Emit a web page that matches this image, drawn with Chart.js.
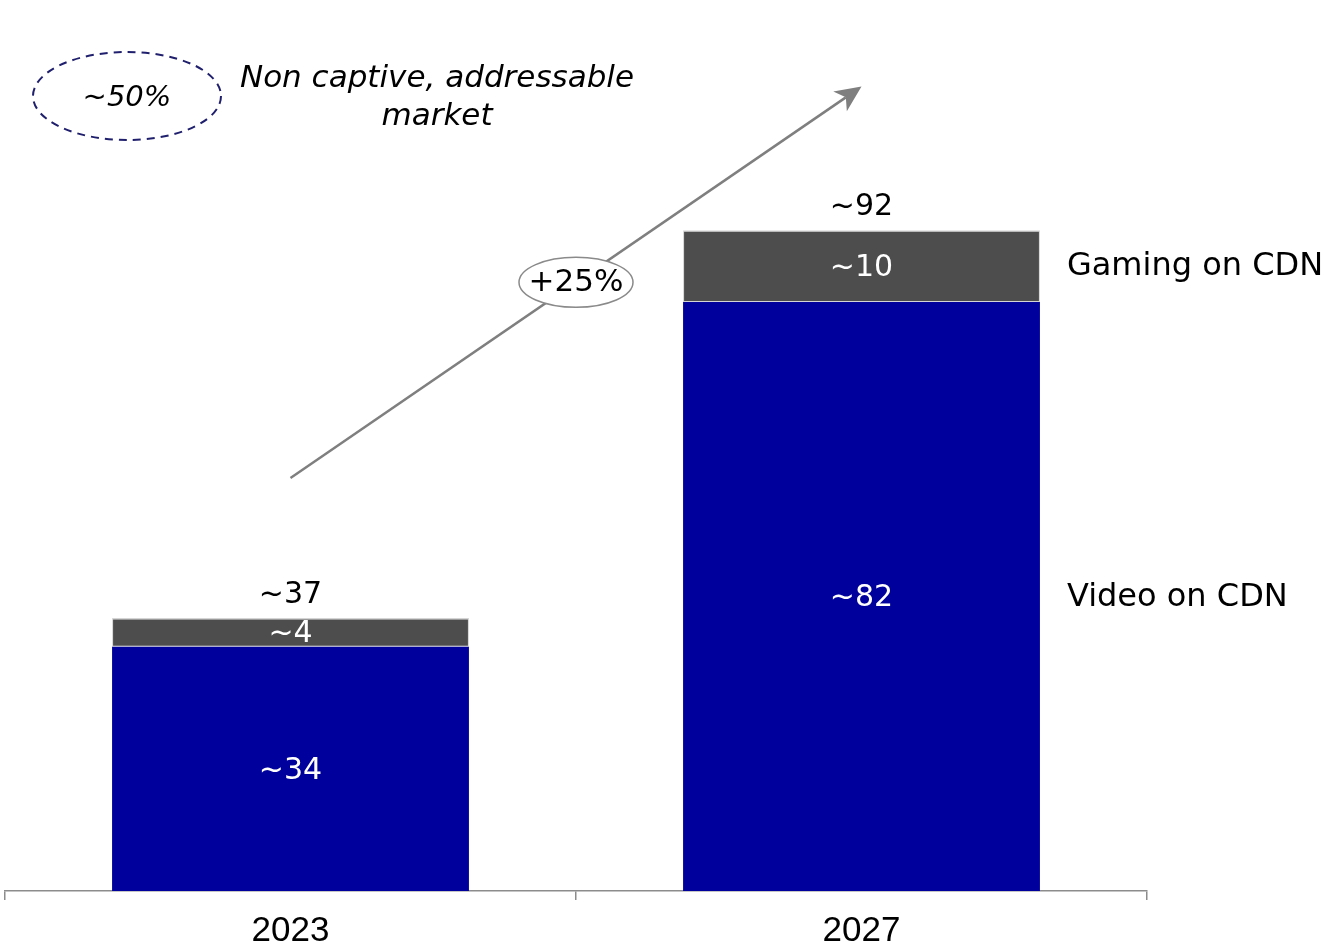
<!DOCTYPE html>
<html>
<head>
<meta charset="utf-8">
<script src="https://cdn.jsdelivr.net/npm/chart.js@4"></script>
<style>
  html, body { margin: 0; padding: 0; background: #ffffff; }
  canvas { display: block; }
</style>
</head>
<body>
<canvas id="cdn" width="1332" height="951"></canvas>
<script>
// CDN market, stacked by segment
const years = ['2023', '2027'];
const videoValues = [34, 82];
const gamingValues = [4, 10];
const totalValues = [37, 92];
const seriesNames = ['Video on CDN', 'Gaming on CDN'];
const growthLabel = '+25%';
const shareLabel = '~50%';
const shareCaption = ['Non captive, addressable', 'market'];

const FONT = "'Century Gothic', 'DejaVu Sans', sans-serif";
const NARROW = "'Liberation Sans Narrow', 'Arial Narrow', sans-serif";

// Value labels inside each segment, totals above each bar, series names on the right
const labelPlugin = {
  id: 'segmentLabels',
  afterDatasetsDraw(chart) {
    const ctx = chart.ctx;
    ctx.save();
    ctx.textAlign = 'center';
    ctx.textBaseline = 'middle';
    chart.data.datasets.forEach((ds, di) => {
      const meta = chart.getDatasetMeta(di);
      meta.data.forEach((bar, i) => {
        const { x, y, base } = bar.getProps(['x', 'y', 'base'], true);
        ctx.fillStyle = '#ffffff';
        ctx.font = `30px ${FONT}`;
        ctx.fillText('~' + ds.data[i], x, (y + base) / 2 + 2);
      });
    });
    // totals
    const top = chart.getDatasetMeta(1);
    top.data.forEach((bar, i) => {
      const { x, y } = bar.getProps(['x', 'y'], true);
      ctx.fillStyle = '#000000';
      ctx.font = `30px ${FONT}`;
      ctx.fillText('~' + totalValues[i], x, y - 23);
    });
    // series names beside the last bar
    ctx.textAlign = 'left';
    ctx.font = `32px ${FONT}`;
    ctx.fillStyle = '#000000';
    chart.data.datasets.forEach((ds, di) => {
      const meta = chart.getDatasetMeta(di);
      const bar = meta.data[meta.data.length - 1];
      const { x, y, base, width } = bar.getProps(['x', 'y', 'base', 'width'], true);
      ctx.fillText(ds.label, x + width / 2 + 27, (y + base) / 2 + 1);
    });
    ctx.restore();
  }
};

// Growth arrow between the bars and the "addressable market" note
const notesPlugin = {
  id: 'notes',
  afterDraw(chart) {
    const ctx = chart.ctx;
    const xs = chart.scales.x, ys = chart.scales.y;
    const ca = chart.chartArea;
    ctx.save();

    // arrow
    const x0 = xs.getPixelForValue(0), y0 = ys.getPixelForValue(57.5);
    const x1 = xs.getPixelForValue(1), y1 = ys.getPixelForValue(112);
    const ang = Math.atan2(y1 - y0, x1 - x0);
    const headLen = 26, headHalf = 12, notch = 7;
    const c = Math.cos(ang), s = Math.sin(ang);
    ctx.strokeStyle = '#7f7f7f';
    ctx.fillStyle = '#7f7f7f';
    ctx.lineWidth = 2.5;
    ctx.beginPath();
    ctx.moveTo(x0, y0);
    ctx.lineTo(x1 - c * (headLen - notch), y1 - s * (headLen - notch));
    ctx.stroke();
    ctx.beginPath();
    ctx.moveTo(x1, y1);
    ctx.lineTo(x1 - c * headLen - s * headHalf, y1 - s * headLen + c * headHalf);
    ctx.lineTo(x1 - c * (headLen - notch), y1 - s * (headLen - notch));
    ctx.lineTo(x1 - c * headLen + s * headHalf, y1 - s * headLen - c * headHalf);
    ctx.closePath();
    ctx.fill();

    // growth bubble at the middle of the arrow
    const mx = (x0 + x1) / 2, my = (y0 + y1) / 2;
    ctx.beginPath();
    ctx.ellipse(mx, my, 57, 25, 0, 0, Math.PI * 2);
    ctx.fillStyle = '#ffffff';
    ctx.fill();
    ctx.lineWidth = 1.5;
    ctx.strokeStyle = '#8a8a8a';
    ctx.stroke();
    ctx.fillStyle = '#000000';
    ctx.font = `31px ${FONT}`;
    ctx.textAlign = 'center';
    ctx.textBaseline = 'middle';
    ctx.fillText(growthLabel, mx, my + 1);

    // dashed share bubble
    const ex = ca.left + 122, ey = 96;
    ctx.beginPath();
    ctx.ellipse(ex, ey, 94, 44, 0, 0, Math.PI * 2);
    ctx.setLineDash([8, 6]);
    ctx.lineWidth = 2;
    ctx.strokeStyle = '#1f1f6e';
    ctx.stroke();
    ctx.setLineDash([]);
    ctx.fillStyle = '#000000';
    ctx.font = `italic 29px ${FONT}`;
    ctx.fillText(shareLabel, ex, ey + 2);

    // caption
    ctx.font = `italic 31px ${FONT}`;
    ctx.fillText(shareCaption[0], 437, 79);
    ctx.fillText(shareCaption[1], 437, 117);
    ctx.restore();
  }
};

new Chart(document.getElementById('cdn'), {
  type: 'bar',
  data: {
    labels: years,
    datasets: [
      {
        label: seriesNames[0],
        data: videoValues,
        backgroundColor: '#00009c',
        borderWidth: 0,
        categoryPercentage: 1,
        barPercentage: 0.625
      },
      {
        label: seriesNames[1],
        data: gamingValues,
        backgroundColor: '#4d4d4d',
        borderColor: '#d4d4d4',
        borderWidth: { top: 1.5, bottom: 1, left: 1, right: 1 },
        borderSkipped: false,
        categoryPercentage: 1,
        barPercentage: 0.625
      }
    ]
  },
  options: {
    responsive: false,
    devicePixelRatio: 1,
    animation: false,
    layout: { padding: { top: 27, left: 5, right: 185, bottom: 0 } },
    plugins: { legend: { display: false }, tooltip: { enabled: false } },
    scales: {
      x: {
        stacked: true,
        grid: {
          offset: true,
          drawOnChartArea: false,
          drawTicks: true,
          tickLength: 9,
          color: '#8c8c8c',
          lineWidth: 1.5
        },
        border: { display: true, color: '#8c8c8c', width: 1.5 },
        ticks: {
          color: '#000000',
          font: { family: NARROW, size: 35 },
          padding: 10
        },
        afterFit(scale) { scale.height = 60; }
      },
      y: {
        stacked: true,
        display: false,
        min: 0,
        max: 120.3
      }
    }
  },
  plugins: [labelPlugin, notesPlugin]
});
</script>
</body>
</html>
